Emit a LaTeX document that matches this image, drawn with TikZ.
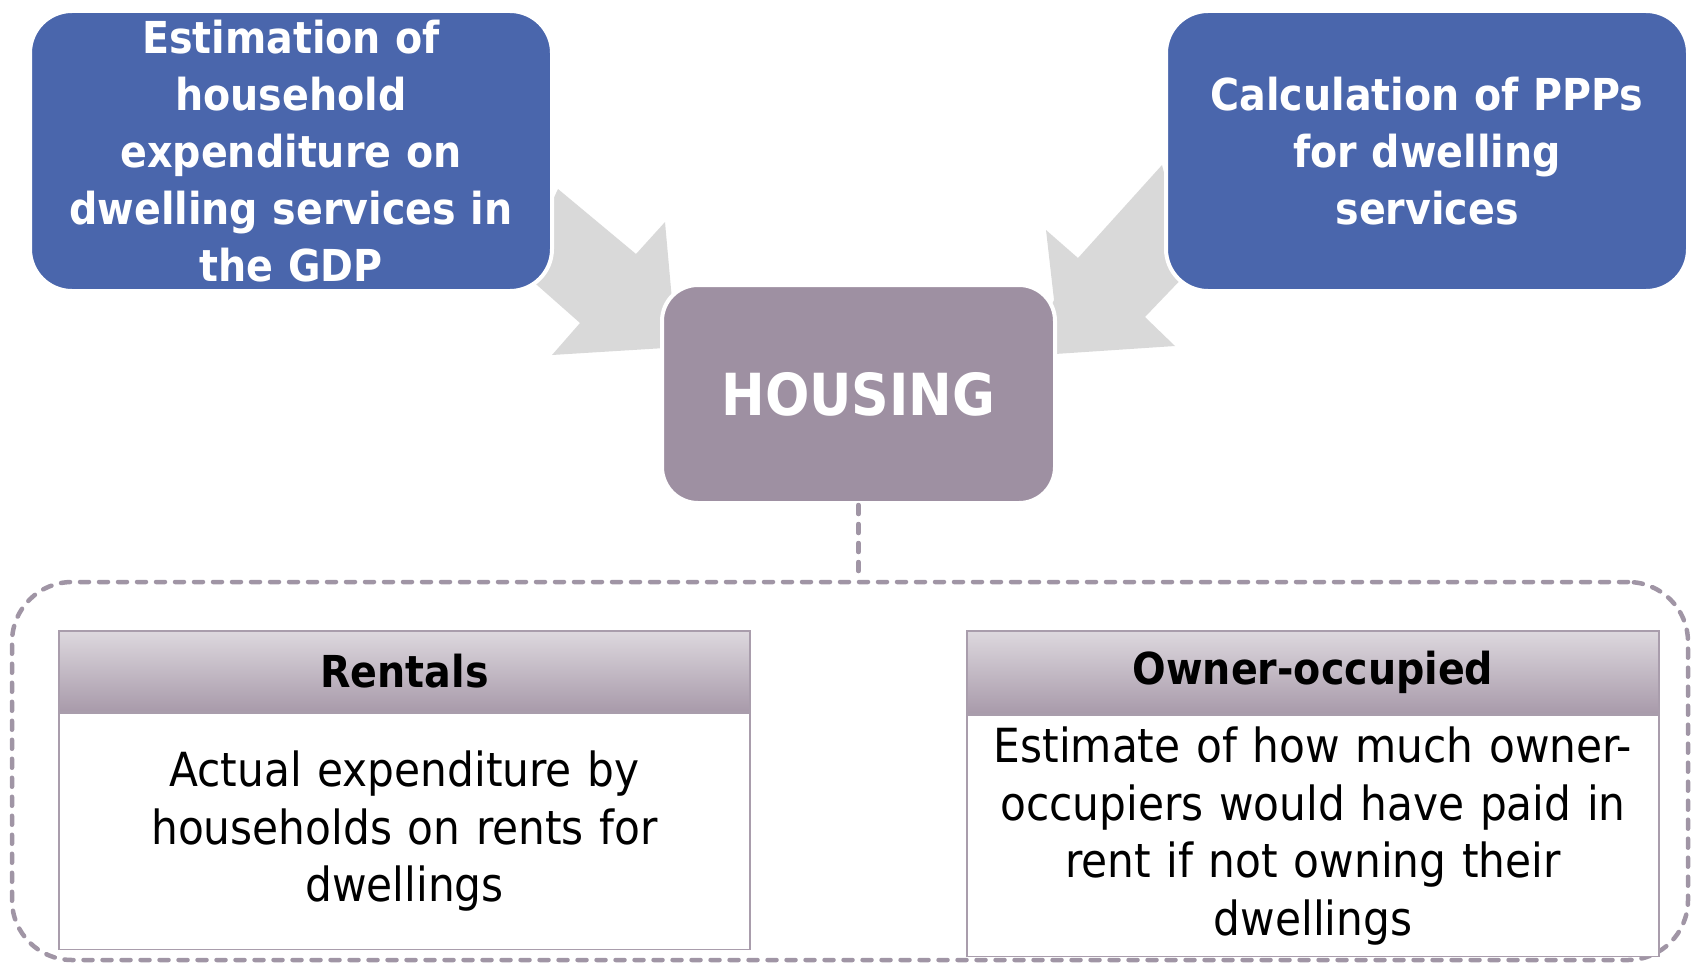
\documentclass[tikz,border=0pt]{standalone}
\usepackage{fontspec}
\IfFontExistsTF{DejaVu Sans Condensed}{\setmainfont{DejaVu Sans Condensed}}{\setmainfont{DejaVu Sans}}
\definecolor{bluebox}{HTML}{4A66AC}
\definecolor{housingc}{HTML}{9E90A2}
\definecolor{arrowg}{HTML}{D9D9D9}
\definecolor{hdtop}{HTML}{DDD8DE}
\definecolor{hdbot}{HTML}{A89AAA}
\definecolor{tblline}{HTML}{A99DAC}
\definecolor{dashc}{HTML}{A095A5}
\begin{document}
\begin{tikzpicture}[x=1pt,y=-1pt,
  bigbox/.style={rectangle, rounded corners=42pt, fill=bluebox, draw=white, line width=4pt,
    minimum width=522pt, minimum height=280pt, text width=480pt, align=center,
    text=white, font=\fontsize{44}{57}\selectfont\bfseries},
  housebox/.style={rectangle, rounded corners=36pt, fill=housingc, draw=white, line width=4pt,
    minimum width=393pt, minimum height=218pt, text=white, font=\fontsize{58}{70}\selectfont\bfseries},
  hdbox/.style={rectangle, top color=hdtop, bottom color=hdbot, draw=tblline, line width=1.5pt,
    minimum width=691pt, text=black, font=\fontsize{44}{57}\selectfont\bfseries},
  bdbox/.style={rectangle, fill=white, draw=tblline, line width=1.5pt,
    minimum width=691pt, text width=660pt, align=center, text=black, font=\fontsize{47}{57.5}\selectfont},
  dashline/.style={draw=dashc, line width=4.5pt, line cap=round, dash pattern=on 9pt off 10pt},
]
\useasboundingbox (0,0) rectangle (1691,966);
% converging arrows
\fill[arrowg] (558,189) -- (636,254) -- (665,222) -- (672,300) -- (690,335) -- (665,348)
  -- (552,355) -- (580,323) -- (520,270) -- cycle;
\fill[arrowg] (1162,165) -- (1078,258) -- (1046,230) -- (1054,300) -- (1035,340) -- (1055,354)
  -- (1175,346) -- (1145,317) -- (1190,270) -- cycle;
% boxes
\node[bigbox] (est) at (291,151) {Estimation of\\household\\expenditure on\\dwelling services in\\the GDP};
\node[bigbox] (calc) at (1427,151) {Calculation of PPPs\\for dwelling\\services};
\node[housebox] (housing) at (858.5,394) {HOUSING};
% dashed group
\node[dashline, rounded corners=60pt,
  minimum width=1676pt, minimum height=378pt] (group) at (850,771) {};
\draw[dashline] (housing.south) -- (housing.south |- group.north);
% tables
\node[hdbox, minimum height=81pt] (renth) at (404.5,671.5) {Rentals};
\node[bdbox, minimum height=236pt, anchor=north] (rentb) at (renth.south) {Actual expenditure by\\households on rents for\\dwellings};
\node[hdbox, minimum width=692pt, minimum height=83pt] (ownh) at (1313,672.5) {Owner-occupied};
\node[bdbox, minimum width=692pt, minimum height=241pt, anchor=north] (ownb) at (ownh.south) {Estimate of how much owner-\\occupiers would have paid in\\rent if not owning their\\dwellings};
\end{tikzpicture}
\end{document}
